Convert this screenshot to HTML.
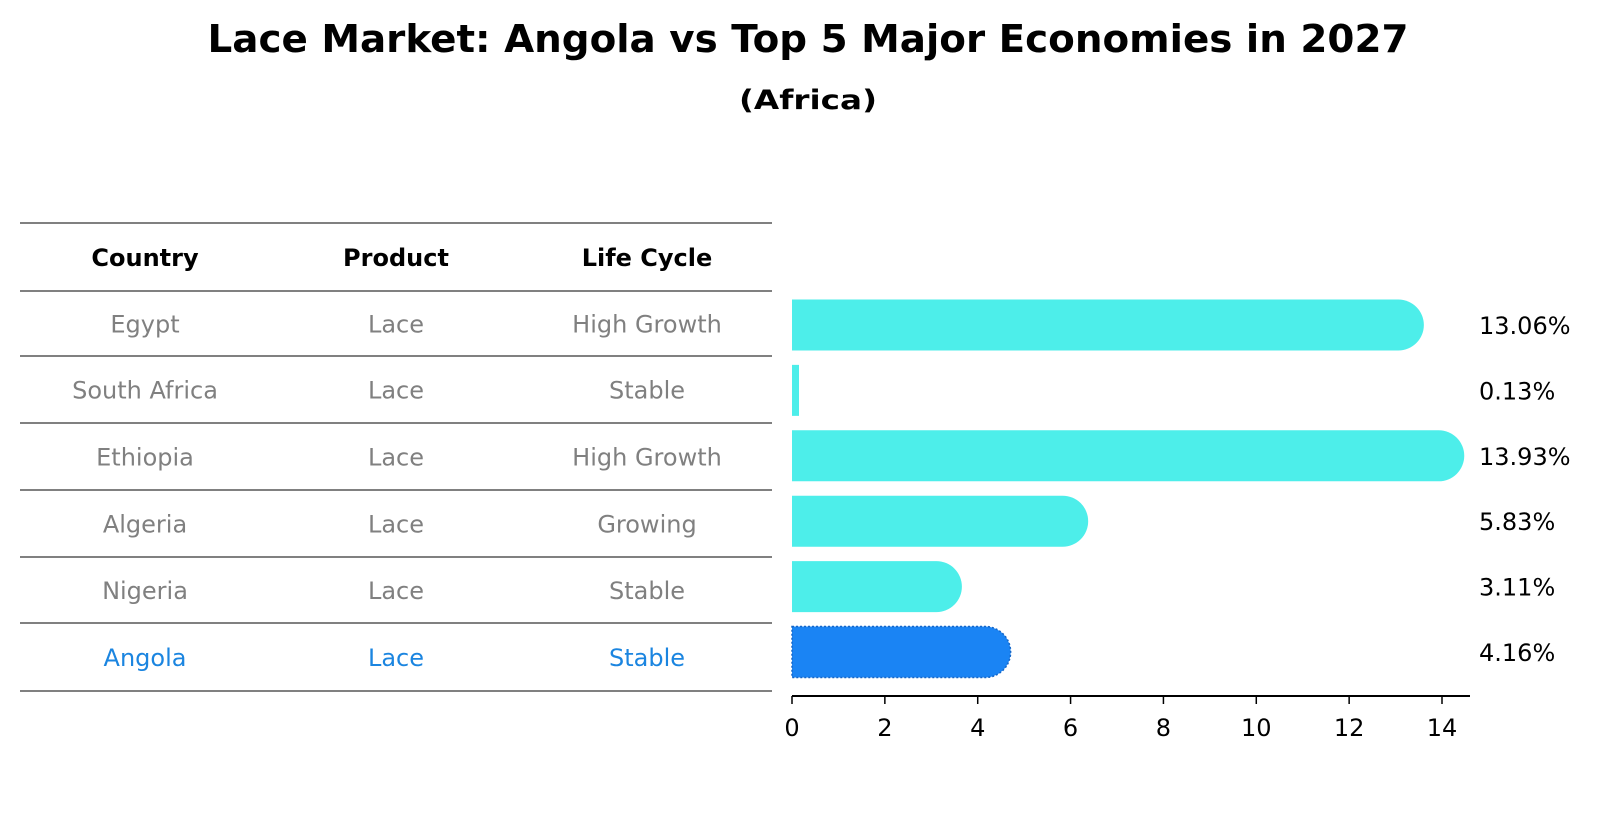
<!DOCTYPE html>
<html><head><meta charset="utf-8"><style>
html,body{margin:0;padding:0;background:#fff;}
svg{display:block;font-family:"DejaVu Sans","Liberation Sans",sans-serif;}
</style></head><body>
<svg id="chart" width="1604" height="823" viewBox="0 0 1604 823" xmlns="http://www.w3.org/2000/svg">
<text x="808" y="52" text-anchor="middle" font-size="38" font-weight="bold" textLength="1201" lengthAdjust="spacingAndGlyphs">Lace Market: Angola vs Top 5 Major Economies in 2027</text>
<text x="808" y="109" text-anchor="middle" font-size="27" font-weight="bold" textLength="138" lengthAdjust="spacingAndGlyphs">(Africa)</text>
<g id="table"></g>
<g id="bars"></g>
</svg>
<script>
const countries = ["Egypt","South Africa","Ethiopia","Algeria","Nigeria","Angola"];
const products = ["Lace","Lace","Lace","Lace","Lace","Lace"];
const lifeCycles = ["High Growth","Stable","High Growth","Growing","Stable","Stable"];
const shares = [13.06,0.13,13.93,5.83,3.11,4.16];
const xTicks = [0,2,4,6,8,10,12,14];
const highlight = "Angola";

const NS="http://www.w3.org/2000/svg";
function mk(tag,attrs,parent){const e=document.createElementNS(NS,tag);for(const k in attrs)e.setAttribute(k,attrs[k]);parent.appendChild(e);return e;}
const table=document.getElementById('table');
const bars=document.getElementById('bars');
const FS=27;

// table
const lineYs=[223,291,356,423,490,557,623,691];
const colX=[145,396,647];
lineYs.forEach((y)=>{
  const l=mk('line',{x1:20,x2:772,y1:y,y2:y,stroke:'#000','stroke-width':1.1},table);
  
  
});
["Country","Product","Life Cycle"].forEach((h,i)=>{
  const t=mk('text',{x:colX[i],y:(lineYs[0]+lineYs[1])/2+9,'text-anchor':'middle','font-size':FS-3,'font-weight':'bold',fill:'#000'},table);
  t.textContent=h;
  
  
});
countries.forEach((c,i)=>{
  const cy=(lineYs[i+1]+lineYs[i+2])/2+9;
  const col=c===highlight?'#1B85E0':'#808080';
  [c,products[i],lifeCycles[i]].forEach((v,j)=>{
    const t=mk('text',{x:colX[j],y:cy,'text-anchor':'middle','font-size':FS-3,fill:col},table);
    t.textContent=v;
    
    
  });
});

// bars
const x0=792, xScale=(1442-792)/14;
const xOf=v=>x0+v*xScale;
const yTop=325, yStep=65.4, bh=51, r=25.5;
const axisY=696;
shares.forEach((v,i)=>{
  const cy=yTop+i*yStep;
  const isH=countries[i]===highlight;
  const fill=isH?'#1A84F4':'#4DEEEA';
  const g=mk('g',{},bars);
  
  
  const w=xOf(v)-x0;
  let d;
  if(w>r){
    d=`M${x0},${cy-bh/2} H${xOf(v)} A${r},${r} 0 0 1 ${xOf(v)},${cy+bh/2} H${x0} Z`;
  } else {
    d=`M${x0},${cy-bh/2} H${x0+Math.max(w,7)} V${cy+bh/2} H${x0} Z`;
  }
  const p=mk('path',{d:d,fill:fill},g);
  if(isH){p.setAttribute('stroke','#1566C8');p.setAttribute('stroke-dasharray','2 2');p.setAttribute('stroke-width','1.5');}
  const t=mk('text',{x:1479,y:cy+9,'font-size':FS-3,fill:'#000'},bars);
  t.textContent=v.toFixed(2)+'%';
  
  
});
// axis
const ax=mk('line',{x1:x0,x2:1470,y1:axisY,y2:axisY,stroke:'#000','stroke-width':2},bars);


xTicks.forEach(v=>{
  const tk=mk('line',{x1:xOf(v),x2:xOf(v),y1:axisY,y2:axisY+8,stroke:'#000','stroke-width':1.5},bars);
  
  
  const t=mk('text',{x:xOf(v),y:736,'text-anchor':'middle','font-size':FS-3,fill:'#000'},bars);
  t.textContent=v;
  
  
});
</script>
</body></html>
